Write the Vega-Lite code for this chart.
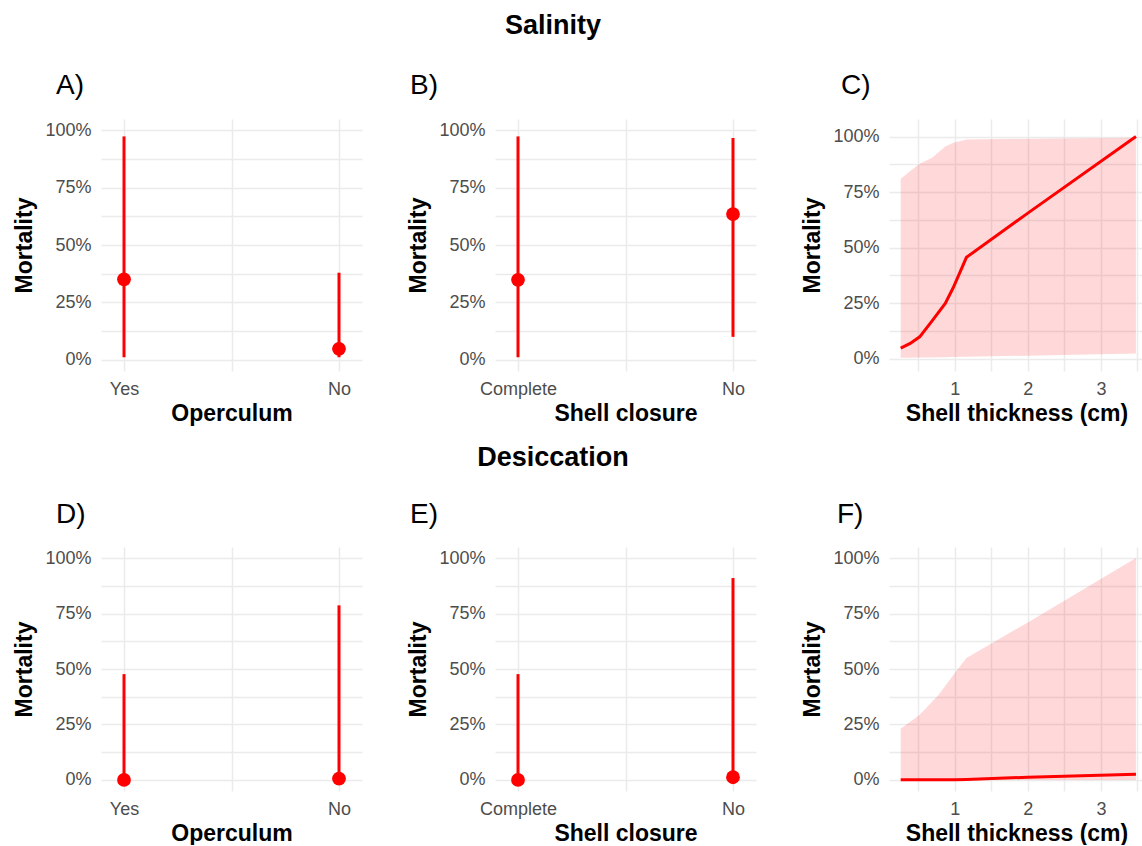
{
  "$schema": "https://vega.github.io/schema/vega-lite/v6.json",
  "padding": {"left": 13, "top": 12, "right": 0, "bottom": 0},
  "background": "white",
  "datasets": {
    "A": [
      {"cat": "Yes", "est": 0.35, "lo": 0.01, "hi": 0.974},
      {"cat": "No", "est": 0.047, "lo": 0.01, "hi": 0.379}
    ],
    "B": [
      {"cat": "Complete", "est": 0.348, "lo": 0.01, "hi": 0.974},
      {"cat": "No", "est": 0.635, "lo": 0.099, "hi": 0.967}
    ],
    "C": [
      {"thick": 0.26, "fit": 0.047, "lower": 0.004, "upper": 0.81},
      {"thick": 0.39, "fit": 0.068, "lower": 0.004, "upper": 0.845},
      {"thick": 0.52, "fit": 0.098, "lower": 0.005, "upper": 0.877},
      {"thick": 0.69, "fit": 0.17, "lower": 0.005, "upper": 0.905},
      {"thick": 0.87, "fit": 0.248, "lower": 0.006, "upper": 0.955},
      {"thick": 0.98, "fit": 0.32, "lower": 0.007, "upper": 0.972},
      {"thick": 1.16, "fit": 0.456, "lower": 0.008, "upper": 0.987},
      {"thick": 2.0, "fit": 0.655, "lower": 0.013, "upper": 0.99},
      {"thick": 3.48, "fit": 1.0, "lower": 0.023, "upper": 0.995}
    ],
    "D": [
      {"cat": "Yes", "est": 0.0, "lo": 0.0, "hi": 0.477},
      {"cat": "No", "est": 0.006, "lo": 0.0, "hi": 0.787}
    ],
    "E": [
      {"cat": "Complete", "est": 0.0, "lo": 0.0, "hi": 0.477},
      {"cat": "No", "est": 0.012, "lo": 0.0, "hi": 0.91}
    ],
    "F": [
      {"thick": 0.26, "fit": 0.001, "lower": 0.0, "upper": 0.231},
      {"thick": 0.52, "fit": 0.001, "lower": 0.0, "upper": 0.294},
      {"thick": 0.78, "fit": 0.001, "lower": 0.0, "upper": 0.384},
      {"thick": 1.0, "fit": 0.001, "lower": 0.0, "upper": 0.482},
      {"thick": 1.16, "fit": 0.002, "lower": 0.0, "upper": 0.55},
      {"thick": 2.0, "fit": 0.012, "lower": 0.0, "upper": 0.71},
      {"thick": 3.48, "fit": 0.025, "lower": 0.0, "upper": 1.0}
    ]
  },
  "vconcat": [
    {
      "title": {"text": "Salinity", "anchor": "middle", "dx": -26, "fontSize": 27, "fontWeight": "bold", "offset": 32},
      "spacing": 45,
      "hconcat": [
        {
          "width": 261, "height": 252,
          "title": {"text": "A)", "anchor": "start", "frame": "group", "dx": -45, "fontSize": 28, "fontWeight": "normal", "offset": 19},
          "data": {"name": "A"},
          "encoding": {
            "x": {"field": "cat", "type": "nominal", "scale": {"type": "point", "domain": ["Yes", " ", "No"], "padding": 0.214}, "axis": {"title": "Operculum", "labelAngle": 0}}
          },
          "layer": [
            {"mark": {"type": "rule", "color": "#FF0000", "strokeWidth": 3},
             "encoding": {"y": {"field": "lo", "type": "quantitative", "scale": {"domain": [-0.05, 1.05], "nice": false, "zero": false}, "axis": {"title": "Mortality", "values": [0, 0.125, 0.25, 0.375, 0.5, 0.625, 0.75, 0.875, 1], "labelExpr": "(datum.value*100) % 25 == 0 ? format(datum.value, '.0%') : ''"}}, "y2": {"field": "hi"}}},
            {"mark": {"type": "point", "filled": true, "color": "#FF0000", "size": 190, "opacity": 1},
             "encoding": {"y": {"field": "est", "type": "quantitative", "axis": {"title": "Mortality", "values": [0, 0.125, 0.25, 0.375, 0.5, 0.625, 0.75, 0.875, 1], "labelExpr": "(datum.value*100) % 25 == 0 ? format(datum.value, '.0%') : ''"}}}}
          ]
        },
        {
          "width": 261, "height": 252,
          "title": {"text": "B)", "anchor": "start", "frame": "group", "dx": -85, "fontSize": 28, "fontWeight": "normal", "offset": 19},
          "data": {"name": "B"},
          "encoding": {
            "x": {"field": "cat", "type": "nominal", "scale": {"type": "point", "domain": ["Complete", " ", "No"], "padding": 0.214}, "axis": {"title": "Shell closure", "labelAngle": 0}}
          },
          "layer": [
            {"mark": {"type": "rule", "color": "#FF0000", "strokeWidth": 3},
             "encoding": {"y": {"field": "lo", "type": "quantitative", "scale": {"domain": [-0.05, 1.05], "nice": false, "zero": false}, "axis": {"title": "Mortality", "values": [0, 0.125, 0.25, 0.375, 0.5, 0.625, 0.75, 0.875, 1], "labelExpr": "(datum.value*100) % 25 == 0 ? format(datum.value, '.0%') : ''"}}, "y2": {"field": "hi"}}},
            {"mark": {"type": "point", "filled": true, "color": "#FF0000", "size": 190, "opacity": 1},
             "encoding": {"y": {"field": "est", "type": "quantitative", "axis": {"title": "Mortality", "values": [0, 0.125, 0.25, 0.375, 0.5, 0.625, 0.75, 0.875, 1], "labelExpr": "(datum.value*100) % 25 == 0 ? format(datum.value, '.0%') : ''"}}}}
          ]
        },
        {
          "width": 255, "height": 252,
          "title": {"text": "C)", "anchor": "start", "frame": "group", "dx": -48, "fontSize": 28, "fontWeight": "normal", "offset": 19},
          "data": {"name": "C"},
          "encoding": {
            "x": {"field": "thick", "type": "quantitative", "scale": {"domain": [0.1, 3.59], "nice": false, "zero": false}, "axis": {"title": "Shell thickness (cm)", "values": [0.5, 1, 1.5, 2, 2.5, 3, 3.5], "labelExpr": "datum.value % 1 == 0 ? format(datum.value, 'd') : ''"}}
          },
          "layer": [
            {"mark": {"type": "area", "color": "#FF0000", "opacity": 0.15},
             "encoding": {"y": {"field": "lower", "type": "quantitative", "scale": {"domain": [-0.056, 1.079], "nice": false, "zero": false}, "axis": {"title": "Mortality", "values": [0, 0.125, 0.25, 0.375, 0.5, 0.625, 0.75, 0.875, 1], "labelExpr": "(datum.value*100) % 25 == 0 ? format(datum.value, '.0%') : ''"}}, "y2": {"field": "upper"}}},
            {"mark": {"type": "line", "color": "#FF0000", "strokeWidth": 3},
             "encoding": {"y": {"field": "fit", "type": "quantitative", "axis": {"title": "Mortality", "values": [0, 0.125, 0.25, 0.375, 0.5, 0.625, 0.75, 0.875, 1], "labelExpr": "(datum.value*100) % 25 == 0 ? format(datum.value, '.0%') : ''"}}}}
          ]
        }
      ]
    },
    {
      "title": {"text": "Desiccation", "anchor": "middle", "dx": -26, "fontSize": 27, "fontWeight": "bold", "offset": 29},
      "spacing": 45,
      "hconcat": [
        {
          "width": 261, "height": 244,
          "title": {"text": "D)", "anchor": "start", "frame": "group", "dx": -45, "fontSize": 28, "fontWeight": "normal", "offset": 18},
          "data": {"name": "D"},
          "encoding": {
            "x": {"field": "cat", "type": "nominal", "scale": {"type": "point", "domain": ["Yes", " ", "No"], "padding": 0.214}, "axis": {"title": "Operculum", "labelAngle": 0}}
          },
          "layer": [
            {"mark": {"type": "rule", "color": "#FF0000", "strokeWidth": 3},
             "encoding": {"y": {"field": "lo", "type": "quantitative", "scale": {"domain": [-0.05, 1.05], "nice": false, "zero": false}, "axis": {"title": "Mortality", "values": [0, 0.125, 0.25, 0.375, 0.5, 0.625, 0.75, 0.875, 1], "labelExpr": "(datum.value*100) % 25 == 0 ? format(datum.value, '.0%') : ''"}}, "y2": {"field": "hi"}}},
            {"mark": {"type": "point", "filled": true, "color": "#FF0000", "size": 190, "opacity": 1},
             "encoding": {"y": {"field": "est", "type": "quantitative", "axis": {"title": "Mortality", "values": [0, 0.125, 0.25, 0.375, 0.5, 0.625, 0.75, 0.875, 1], "labelExpr": "(datum.value*100) % 25 == 0 ? format(datum.value, '.0%') : ''"}}}}
          ]
        },
        {
          "width": 261, "height": 244,
          "title": {"text": "E)", "anchor": "start", "frame": "group", "dx": -85, "fontSize": 28, "fontWeight": "normal", "offset": 18},
          "data": {"name": "E"},
          "encoding": {
            "x": {"field": "cat", "type": "nominal", "scale": {"type": "point", "domain": ["Complete", " ", "No"], "padding": 0.214}, "axis": {"title": "Shell closure", "labelAngle": 0}}
          },
          "layer": [
            {"mark": {"type": "rule", "color": "#FF0000", "strokeWidth": 3},
             "encoding": {"y": {"field": "lo", "type": "quantitative", "scale": {"domain": [-0.05, 1.05], "nice": false, "zero": false}, "axis": {"title": "Mortality", "values": [0, 0.125, 0.25, 0.375, 0.5, 0.625, 0.75, 0.875, 1], "labelExpr": "(datum.value*100) % 25 == 0 ? format(datum.value, '.0%') : ''"}}, "y2": {"field": "hi"}}},
            {"mark": {"type": "point", "filled": true, "color": "#FF0000", "size": 190, "opacity": 1},
             "encoding": {"y": {"field": "est", "type": "quantitative", "axis": {"title": "Mortality", "values": [0, 0.125, 0.25, 0.375, 0.5, 0.625, 0.75, 0.875, 1], "labelExpr": "(datum.value*100) % 25 == 0 ? format(datum.value, '.0%') : ''"}}}}
          ]
        },
        {
          "width": 255, "height": 244,
          "title": {"text": "F)", "anchor": "start", "frame": "group", "dx": -52, "fontSize": 28, "fontWeight": "normal", "offset": 18},
          "data": {"name": "F"},
          "encoding": {
            "x": {"field": "thick", "type": "quantitative", "scale": {"domain": [0.1, 3.59], "nice": false, "zero": false}, "axis": {"title": "Shell thickness (cm)", "values": [0.5, 1, 1.5, 2, 2.5, 3, 3.5], "labelExpr": "datum.value % 1 == 0 ? format(datum.value, 'd') : ''"}}
          },
          "layer": [
            {"mark": {"type": "area", "color": "#FF0000", "opacity": 0.15},
             "encoding": {"y": {"field": "lower", "type": "quantitative", "scale": {"domain": [-0.05, 1.05], "nice": false, "zero": false}, "axis": {"title": "Mortality", "values": [0, 0.125, 0.25, 0.375, 0.5, 0.625, 0.75, 0.875, 1], "labelExpr": "(datum.value*100) % 25 == 0 ? format(datum.value, '.0%') : ''"}}, "y2": {"field": "upper"}}},
            {"mark": {"type": "line", "color": "#FF0000", "strokeWidth": 3},
             "encoding": {"y": {"field": "fit", "type": "quantitative", "axis": {"title": "Mortality", "values": [0, 0.125, 0.25, 0.375, 0.5, 0.625, 0.75, 0.875, 1], "labelExpr": "(datum.value*100) % 25 == 0 ? format(datum.value, '.0%') : ''"}}}}
          ]
        }
      ]
    }
  ],
  "spacing": 19,
  "config": {
    "font": "Liberation Sans",
    "view": {"stroke": null},
    "title": {"font": "Liberation Sans", "color": "black"},
    "axis": {
      "domain": false,
      "ticks": false,
      "tickSize": 0,
      "grid": true,
      "gridColor": "#EBEBEB",
      "gridWidth": 1.5,
      "labelFont": "Liberation Sans",
      "labelFontSize": 18,
      "labelColor": "#4D4D4D",
      "labelPadding": 9,
      "titleFont": "Liberation Sans",
      "titleFontSize": 23,
      "titleFontWeight": "bold",
      "titleColor": "black",
      "titlePadding": 4
    },
    "axisY": {"labelPadding": 10, "titlePadding": 8}
  }
}
